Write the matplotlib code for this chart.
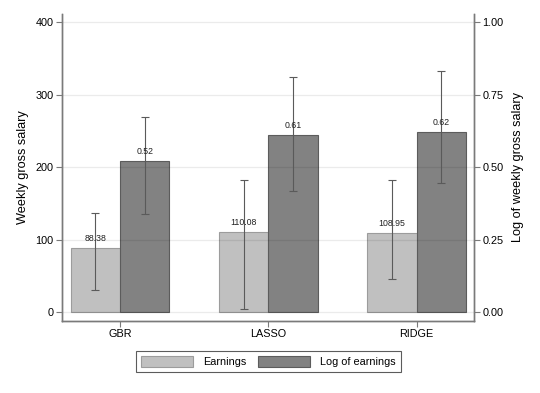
import numpy as np
import matplotlib
matplotlib.use("Agg")
import matplotlib.pyplot as plt
from matplotlib.patches import Patch

plt.rcParams['font.family'] = ['Liberation Sans', 'DejaVu Sans']

# data
models = ["GBR", "LASSO", "RIDGE"]
earnings = [88.38, 110.08, 108.95]
earn_lo = [31, 4, 46]
earn_hi = [137, 182, 183]
log_earn = [0.52, 0.61, 0.62]
log_lo = [0.338, 0.419, 0.447]
log_hi = [0.675, 0.811, 0.832]

light = "#c0c0c0"
dark = "#828282"
err_col = "#5a5a5a"
spine_col = "#7a7a7a"

fig = plt.figure(figsize=(5.4, 3.93), dpi=100)
ax = fig.add_axes([62 / 540, 1 - 320.7 / 393, (474.3 - 62) / 540, (320.7 - 14) / 393])
ax2 = ax.twinx()

x = np.arange(len(models))
w = 0.333
scale = 400.0  # right axis 1.00 == left axis 400

e = np.array(earnings)
le = np.array(log_earn) * scale
ax.bar(x - w / 2, e, w, color=light, edgecolor="#9c9c9c", linewidth=0.8, zorder=2)
ax.bar(x + w / 2, le, w, color=dark, edgecolor="#5c5c5c", linewidth=0.8, zorder=2)

ax.errorbar(x - w / 2, e, yerr=[e - np.array(earn_lo), np.array(earn_hi) - e],
            fmt="none", ecolor=err_col, elinewidth=0.8, capsize=3, capthick=0.8, zorder=4)
ax.errorbar(x + w / 2, le, yerr=[le - np.array(log_lo) * scale, np.array(log_hi) * scale - le],
            fmt="none", ecolor=err_col, elinewidth=0.8, capsize=3, capthick=0.8, zorder=4)

for xi, v in zip(x - w / 2, earnings):
    ax.annotate(f"{v:.2f}", (xi, v), xytext=(0, 4), textcoords="offset points",
                ha="center", va="bottom", fontsize=6.3, color="#222222", zorder=5)
for xi, v in zip(x + w / 2, log_earn):
    ax.annotate(f"{v:.2f}", (xi, v * scale), xytext=(0, 4), textcoords="offset points",
                ha="center", va="bottom", fontsize=6.3, color="#222222", zorder=5)

ax.set_xlim(-0.391, 2.389)
ax.set_ylim(-11.6, 411.4)
ax2.set_ylim(-11.6 / scale, 411.4 / scale)

ax.set_yticks([0, 100, 200, 300, 400])
ax2.set_yticks([0, 0.25, 0.5, 0.75, 1.0])
ax2.set_yticklabels(["0.00", "0.25", "0.50", "0.75", "1.00"])
ax.set_xticks(x)
ax.set_xticklabels(models)

for a in (ax, ax2):
    a.tick_params(axis="both", labelsize=7.8, length=4, width=0.8, color=spine_col, pad=2)
    for s in a.spines.values():
        s.set_color(spine_col)
        s.set_linewidth(1.0)
    a.spines["top"].set_visible(False)

ax.grid(axis="y", color="black", alpha=0.08, linewidth=0.9, zorder=3)
ax.set_axisbelow(False)
ax.grid(axis="x", visible=False)

ax.set_ylabel("Weekly gross salary", fontsize=9.2, labelpad=5)
ax2.set_ylabel("Log of weekly gross salary", fontsize=9.2, labelpad=6)

handles = [Patch(facecolor=light, edgecolor="#9c9c9c", linewidth=0.8),
           Patch(facecolor=dark, edgecolor="#5c5c5c", linewidth=0.8)]
leg = fig.legend(handles, ["Earnings", "Log of earnings"], loc="center",
                 bbox_to_anchor=(268.3 / 540, 1 - 361.8 / 393), ncol=2,
                 fontsize=7.8, frameon=True, fancybox=False, handlelength=4.8,
                 handleheight=1.2, handletextpad=1.0, columnspacing=1.0,
                 borderpad=0.45, edgecolor="#333333")
leg.get_frame().set_linewidth(0.8)

fig.savefig("out.png", dpi=100)
